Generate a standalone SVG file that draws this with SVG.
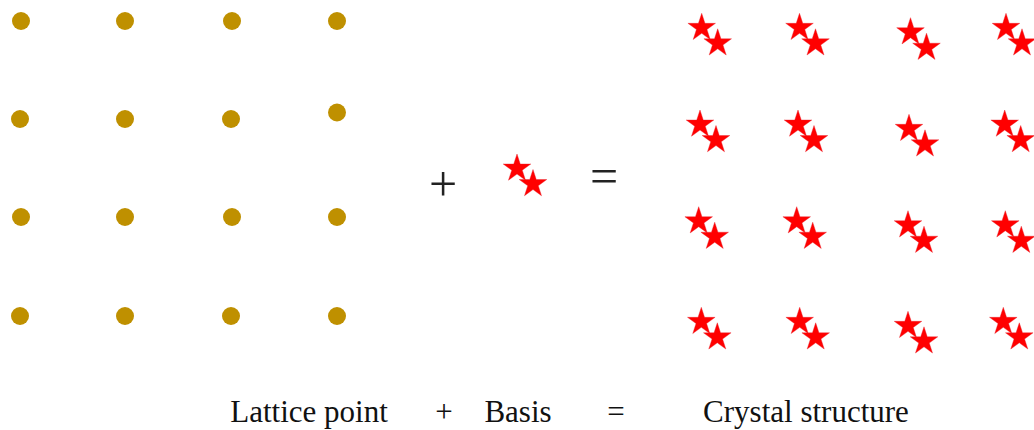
<svg xmlns="http://www.w3.org/2000/svg" xmlns:xlink="http://www.w3.org/1999/xlink" width="1034" height="430" viewBox="0 0 1034 430">
<style>
.dot{fill:#BF9000}
.star{fill:#FF0000;stroke:#E8202A;stroke-width:0.4}
.lbl{font-family:"Liberation Serif","Times New Roman",serif;font-size:31px;fill:#111;text-anchor:middle}
.op{font-family:"Liberation Serif","Times New Roman",serif;font-size:50px;fill:#222;text-anchor:middle}
</style>
<defs>
<path id="s" class="star" d="M0,-14.5 L3.26,-4.48 L13.79,-4.48 L5.27,1.71 L8.52,11.73 L0,5.54 L-8.52,11.73 L-5.27,1.71 L-13.79,-4.48 L-3.26,-4.48 Z"/>
<g id="pair"><use xlink:href="#s" href="#s" x="0" y="0"/><use xlink:href="#s" href="#s" x="16" y="15.5"/></g>
</defs>
<rect width="1034" height="430" fill="#fff"/>
<g id="lattice">
<circle class="dot" cx="21" cy="21" r="9"/><circle class="dot" cx="125" cy="21" r="9"/><circle class="dot" cx="232" cy="21" r="9"/><circle class="dot" cx="337" cy="21" r="9"/>
<circle class="dot" cx="20" cy="119" r="9"/><circle class="dot" cx="125" cy="119" r="9"/><circle class="dot" cx="231" cy="119" r="9"/><circle class="dot" cx="337" cy="112.5" r="9"/>
<circle class="dot" cx="21" cy="217" r="9"/><circle class="dot" cx="125" cy="217" r="9"/><circle class="dot" cx="232" cy="217" r="9"/><circle class="dot" cx="337" cy="217" r="9"/>
<circle class="dot" cx="20" cy="316" r="9"/><circle class="dot" cx="125" cy="316" r="9"/><circle class="dot" cx="231" cy="316" r="9"/><circle class="dot" cx="337" cy="316" r="9"/>
</g>
<g id="basis">
<use xlink:href="#pair" href="#pair" x="517" y="168.5"/>
</g>
<g id="crystal">
<use href="#pair" xlink:href="#pair" x="701.7" y="27.8"/><use href="#pair" xlink:href="#pair" x="799.5" y="27.8"/><use href="#pair" xlink:href="#pair" x="910.5" y="32.2"/><use href="#pair" xlink:href="#pair" x="1006" y="27.8"/>
<use href="#pair" xlink:href="#pair" x="700" y="124.5"/><use href="#pair" xlink:href="#pair" x="798" y="124.5"/><use href="#pair" xlink:href="#pair" x="909" y="128.8"/><use href="#pair" xlink:href="#pair" x="1004.7" y="124.5"/>
<use href="#pair" xlink:href="#pair" x="698.7" y="221.2"/><use href="#pair" xlink:href="#pair" x="796.7" y="221.2"/><use href="#pair" xlink:href="#pair" x="908" y="225.2"/><use href="#pair" xlink:href="#pair" x="1005.3" y="225.2"/>
<use href="#pair" xlink:href="#pair" x="701.3" y="321.8"/><use href="#pair" xlink:href="#pair" x="799.7" y="321.8"/><use href="#pair" xlink:href="#pair" x="908" y="325.8"/><use href="#pair" xlink:href="#pair" x="1003.3" y="321.8"/>
</g>
<g id="operators">
<text class="op" x="443" y="201">+</text>
<text class="op" x="604" y="193">=</text>
</g>
<g id="labels">
<text class="lbl" x="309" y="422">Lattice point</text>
<text class="lbl" x="444" y="422">+</text>
<text class="lbl" x="518" y="422">Basis</text>
<text class="lbl" x="616" y="422">=</text>
<text class="lbl" x="806" y="422">Crystal structure</text>
</g>
</svg>
